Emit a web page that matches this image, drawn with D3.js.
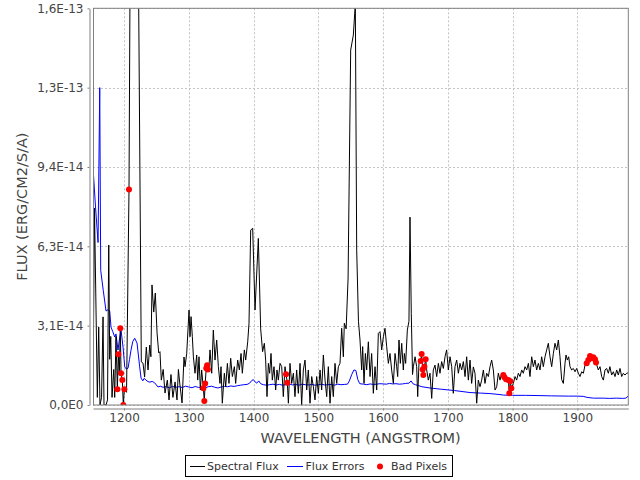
<!DOCTYPE html>
<html><head><meta charset="utf-8">
<script src="https://cdn.jsdelivr.net/npm/d3@7"></script>
<style>
body{margin:0;background:#fff;}
svg text{font-family:"DejaVu Sans",sans-serif;}
</style></head><body>
<svg id="c" width="640" height="480"></svg>
<script>
// ---------------- DATA (flux in units of 1e-14 erg/cm2/s/A) ----------------
const SCALE = 1e-14;
const fluxWave = [1152.1,1154.4,1158.8,1160.9,1162.9,1165.3,1167.6,1169.1,1172.2,1174.5,1176.4,1177.9,1179.5,1181.5,1184.1,1185.6,1187.6,1189.7,1191.2,1192.7,1194.3,1195.4,1197.4,1198.9,1200.5,1203.9,1207.7,1211.0,1215.5,1220.0,1226.7,1229.3,1231.8,1234.4,1237.1,1239.7,1241.5,1243.2,1245.9,1248.3,1251.0,1253.6,1255.5,1257.6,1260.5,1263.3,1266.9,1269.5,1272.5,1275.5,1278.8,1281.8,1284.0,1286.0,1289.6,1292.6,1294.2,1296.8,1300.4,1301.9,1303.5,1305.5,1307.1,1309.6,1312.2,1313.8,1315.8,1317.9,1319.9,1322.5,1324.0,1325.3,1327.0,1328.3,1329.5,1331.2,1332.8,1335.4,1337.9,1340.5,1343.1,1345.7,1348.2,1349.8,1351.8,1354.9,1357.0,1359.6,1362.1,1364.7,1367.3,1370.4,1372.4,1375.5,1378.1,1380.7,1382.7,1385.8,1387.9,1391.0,1393.0,1395.6,1398.7,1402.3,1407.4,1411.0,1414.0,1416.7,1418.7,1420.8,1422.9,1424.9,1427.0,1429.0,1431.6,1434.2,1436.2,1438.3,1440.9,1443.5,1446.0,1448.6,1450.2,1452.2,1453.8,1456.3,1458.9,1461.5,1464.0,1466.6,1469.2,1471.8,1474.3,1476.9,1479.5,1482.1,1484.6,1487.2,1489.8,1492.4,1494.9,1497.5,1500.1,1502.7,1505.2,1507.8,1510.4,1513.0,1515.5,1518.1,1520.7,1523.2,1525.8,1528.4,1531.0,1533.5,1536.1,1538.7,1540.2,1543.0,1546.0,1550.0,1554.1,1557.2,1559.3,1562.0,1564.4,1567.0,1568.5,1570.6,1572.7,1574.7,1577.3,1579.9,1582.4,1585.0,1587.6,1590.2,1592.7,1595.3,1597.9,1600.5,1603.0,1605.6,1608.2,1610.7,1613.3,1615.9,1618.5,1621.0,1622.6,1624.6,1626.7,1628.8,1631.3,1632.9,1634.9,1637.5,1640.0,1641.6,1643.6,1645.5,1646.8,1649.4,1651.9,1653.5,1655.5,1658.1,1659.6,1661.2,1662.2,1663.8,1665.8,1667.4,1669.9,1672.5,1675.1,1677.6,1680.2,1682.8,1685.4,1687.9,1690.5,1693.1,1695.7,1698.2,1700.8,1703.4,1706.0,1708.5,1711.1,1713.7,1716.3,1718.8,1721.4,1724.0,1726.6,1729.1,1731.7,1734.3,1736.8,1739.4,1742.0,1744.6,1747.1,1749.7,1752.3,1754.9,1757.4,1760.0,1762.6,1765.2,1767.7,1770.3,1772.9,1775.5,1778.0,1780.6,1783.2,1785.7,1787.3,1789.9,1793.5,1795.0,1796.5,1798.1,1801.2,1803.8,1806.3,1808.9,1811.5,1814.1,1816.6,1819.2,1821.8,1824.4,1826.9,1829.5,1832.1,1834.6,1837.2,1839.8,1842.4,1844.9,1847.5,1850.1,1852.7,1855.2,1857.8,1860.4,1863.0,1865.5,1868.1,1870.7,1873.2,1875.8,1878.4,1881.0,1882.5,1884.6,1886.6,1888.7,1891.3,1893.8,1896.4,1899.0,1901.6,1904.1,1906.7,1909.3,1911.9,1914.4,1917.0,1919.6,1922.1,1924.7,1927.3,1928.8,1932.4,1935.0,1937.6,1940.2,1942.7,1945.3,1947.9,1950.3,1953.0,1955.6,1958.2,1960.8,1963.3,1965.9,1968.5,1971.0,1973.6,1976.2,1978.7];
const fluxVals = [0.5,7.75,0.3,3.07,0.0,0.3,3.47,0.0,0.0,0.2,6.3,1.8,2.7,0.3,1.4,0.3,2.7,0.62,2.0,1.2,3.02,1.25,0.98,0.0,0.62,0.5,8.49,25.4,45,25,1.7,1.65,1.1,2.28,1.38,2.36,1.9,4.73,3.66,4.41,2.84,2.05,2.1,0.98,1.4,0.47,0.98,0.2,1.2,0.3,0.91,0.2,1.4,0.87,0.08,1.89,1.51,2.03,3.74,2.69,3.48,2.69,1.90,1.25,1.97,0.98,1.90,0.59,1.38,0.66,0.16,0.85,1.45,1.57,1.40,1.51,2.17,1.25,2.95,1.77,2.56,1.51,0.85,1.51,0.07,1.25,0.72,1.64,0.85,1.84,1.12,1.51,0.85,1.77,1.38,2.03,1.25,2.17,1.77,2.49,3.22,6.89,6.96,3.74,6.56,3.0,2.1,2.43,1.77,0.33,1.64,1.25,2.03,0.98,1.51,0.59,1.38,0.98,1.64,1.51,0.33,1.51,1.21,0.88,0.07,1.64,0.85,1.25,0.33,1.38,0.46,1.64,0.0,1.38,1.77,0.59,1.38,0.07,1.12,0.72,0.20,1.12,0.46,1.38,0.59,1.97,0.98,0.33,1.51,0.07,1.12,0.33,1.64,0.85,1.51,1.64,3.02,1.90,3.22,3.0,5.0,13.98,14.57,15.8,6.1,3.3,2.56,1.38,2.30,0.85,2.03,1.38,2.49,1.12,2.03,0.46,1.51,0.59,2.82,2.89,2.17,2.69,3.02,2.30,1.64,2.03,1.38,0.85,2.03,1.51,1.12,2.56,1.64,2.43,1.38,2.03,1.64,2.95,3.3,7.4,3.6,1.2,1.51,1.90,1.51,0.33,1.64,1.73,2.01,1.40,1.18,1.51,1.80,1.38,0.98,1.25,0.26,1.38,1.57,1.12,1.64,1.25,1.71,1.44,1.90,2.17,1.38,1.90,1.51,0.46,1.51,1.77,1.25,1.64,1.38,1.71,1.12,1.90,0.98,1.77,0.85,1.5,1.25,0.07,0.98,0.72,0.98,1.38,0.85,1.25,1.12,1.51,1.77,1.38,0.59,0.72,1.25,0.98,1.25,1.18,1.09,1.01,0.98,0.46,0.94,0.66,0.85,1.12,0.98,1.25,1.12,1.38,1.25,1.51,1.38,1.64,1.12,1.90,1.51,1.77,1.38,1.64,1.38,1.90,1.51,1.90,2.17,2.43,1.90,1.51,2.03,2.43,2.17,2.56,1.90,1.0,0.85,1.64,1.97,1.77,1.90,1.51,1.38,1.44,1.31,1.44,1.25,1.12,1.31,1.25,1.57,1.64,1.77,1.93,1.84,1.88,1.80,1.67,1.38,1.51,1.12,0.98,1.38,1.44,1.25,1.51,1.18,1.31,1.12,1.38,1.18,1.44,1.12,1.25,1.18,1.25,1.27];

const errWave = [1152.1,1156.0,1159.9,1162.5,1164.0,1168.0,1172.2,1175.0,1177.9,1179.9,1182.5,1185.6,1187.6,1190.7,1193.0,1195.4,1198.5,1201.1,1203.5,1206.2,1208.5,1210.8,1213.5,1216.5,1220.1,1224.2,1226.3,1229.0,1231.0,1234.0,1237.0,1240.1,1243.5,1247.4,1252.5,1256,1260,1265,1270,1275,1280,1285,1290,1295,1300,1305,1310,1315,1320,1325,1330,1335,1340,1345,1350,1355,1360,1365,1370,1375,1380,1385,1390,1394,1397,1399.7,1402,1405,1408,1411,1415,1420,1425,1430,1435,1440,1445,1450,1455,1460,1465,1470,1475,1480,1485,1490,1495,1500,1505,1510,1515,1520,1525,1530,1535,1540,1545,1548,1551.6,1555,1558,1561,1564,1570,1575,1580,1585,1590,1595,1600,1605,1610,1615,1620,1625,1630,1635,1640,1643.2,1646,1650,1660,1672.5,1690,1710,1734.3,1750,1765,1780.6,1786,1800,1820,1842.4,1860,1886,1900,1909,1915,1925,1940,1950,1960,1970,1975,1978.7];
const errVals = [9.37,7.8,6.4,12.5,5.3,4.5,3.7,3.75,3.7,3.07,2.9,2.68,2.8,2.16,2.6,2.95,2.28,1.5,1.42,1.45,1.8,2.16,2.5,2.63,2.44,1.5,1.06,0.95,1.05,0.98,0.92,0.9,0.93,0.87,0.71,0.74,0.70,0.72,0.68,0.73,0.70,0.72,0.69,0.74,0.71,0.68,0.73,0.69,0.71,0.67,0.72,0.74,0.70,0.67,0.71,0.73,0.72,0.75,0.73,0.76,0.78,0.80,0.81,0.86,0.96,1.0,0.92,0.86,0.95,0.84,0.80,0.78,0.80,0.82,0.79,0.81,0.78,0.80,0.83,0.79,0.81,0.78,0.82,0.80,0.79,0.81,0.78,0.80,0.82,0.79,0.80,0.81,0.78,0.82,0.80,0.81,0.82,0.95,1.2,1.38,1.36,1.0,0.84,0.82,0.80,0.83,0.81,0.82,0.84,0.83,0.82,0.85,0.83,0.84,0.82,0.83,0.85,0.86,0.95,0.84,0.80,0.72,0.67,0.62,0.57,0.49,0.47,0.45,0.41,0.39,0.38,0.38,0.37,0.36,0.35,0.35,0.34,0.30,0.27,0.27,0.26,0.27,0.26,0.27,0.36];

const badWave = [1189.7,1191.2,1194.3,1195.4,1197.4,1198.9,1200.5,1207.7,1322.5,1324.0,1325.3,1327.0,1328.3,1329.5,1450.2,1452.2,1658.1,1659.6,1661.2,1662.2,1663.8,1665.8,1785.7,1787.3,1789.9,1793.5,1795.0,1796.5,1798.1,1914.4,1917.0,1919.6,1922.1,1924.7,1927.3,1928.8];
const badVals = [0.62,2.0,3.02,1.25,0.98,0.0,0.62,8.49,0.66,0.16,0.85,1.45,1.57,1.40,1.21,0.88,1.73,2.01,1.40,1.18,1.51,1.80,1.18,1.09,1.01,0.98,0.46,0.94,0.66,1.64,1.77,1.93,1.84,1.88,1.80,1.67];

const xRange = [1152.1, 1978.7];
const yRange = [0, 1.5625e-13];
const xTicks = [1200,1300,1400,1500,1600,1700,1800,1900];
const yTicks = [0, 3.125e-14, 6.25e-14, 9.375e-14, 1.25e-13, 1.5625e-13];
const yTickLabels = ["0,0E0","3,1E-14","6,3E-14","9,4E-14","1,3E-13","1,6E-13"];
const xTitle = "WAVELENGTH (ANGSTROM)";
const yTitle = "FLUX (ERG/CM2/S/A)";
const legendItems = ["Spectral Flux","Flux Errors","Bad Pixels"];

// ---------------- CHART ----------------
const svg = d3.select("#c");
const L=93, R=628.3, T=8.3, B=405;
const x = d3.scaleLinear().domain(xRange).range([L,R]);
const y = d3.scaleLinear().domain(yRange).range([B,T]);
const textCol = "#444";

svg.append("rect").attr("x",L).attr("y",T).attr("width",R-L).attr("height",B-T).attr("fill","#fff");

// gridlines
const grid = svg.append("g").attr("stroke","#c4c4c4").attr("stroke-width",1).attr("stroke-dasharray","2,2");
xTicks.forEach(t=>grid.append("line").attr("x1",Math.round(x(t))+0.5).attr("x2",Math.round(x(t))+0.5).attr("y1",T).attr("y2",B));
yTicks.forEach(t=>grid.append("line").attr("y1",Math.round(y(t))+0.5).attr("y2",Math.round(y(t))+0.5).attr("x1",L).attr("x2",R));

// data
svg.append("clipPath").attr("id","clip").append("rect").attr("x",L).attr("y",T).attr("width",R-L).attr("height",B-T);
const gData = svg.append("g").attr("clip-path","url(#clip)");
const line = d3.line().x(d=>x(d[0])).y(d=>y(d[1]*SCALE));
gData.append("path").datum(errWave.map((w,i)=>[w,errVals[i]])).attr("d",line).attr("fill","none").attr("stroke","#0000ff").attr("stroke-width",1);
gData.append("path").datum(fluxWave.map((w,i)=>[w,fluxVals[i]])).attr("d",line).attr("fill","none").attr("stroke","#000").attr("stroke-width",1);
gData.selectAll("circle").data(badWave.map((w,i)=>[w,badVals[i]])).enter().append("circle")
  .attr("cx",d=>x(d[0])).attr("cy",d=>y(d[1]*SCALE)).attr("r",3).attr("fill","#ff0000");

// plot outline
svg.append("rect").attr("x",L+0.5).attr("y",T).attr("width",R-L-0.5).attr("height",B-T).attr("fill","none").attr("stroke","#808080").attr("stroke-width",1);

// axes
const yAxis = d3.axisLeft(y).tickValues(yTicks).tickFormat((d,i)=>yTickLabels[i]).tickSizeInner(2).tickSizeOuter(0).tickPadding(4);
const gy = svg.append("g").attr("transform","translate(89.5,0)").call(yAxis);
const xAxis = d3.axisBottom(x).tickValues(xTicks).tickFormat(d3.format("d")).tickSizeInner(2).tickSizeOuter(0).tickPadding(3);
const gx = svg.append("g").attr("transform","translate(0,408.5)").call(xAxis);
[gx,gy].forEach(g=>{
  g.select(".domain").attr("stroke","#808080");
  g.selectAll(".tick line").attr("stroke","#808080");
  g.selectAll("text").attr("fill",textCol).style("font-size","12px").style("font-family","DejaVu Sans");
});

svg.append("text").attr("x",(L+R)/2).attr("y",443).attr("text-anchor","middle").attr("fill",textCol)
  .style("font-size","14.5px").text(xTitle);
svg.append("text").attr("transform",`translate(27,${(T+B)/2}) rotate(-90)`).attr("text-anchor","middle").attr("fill",textCol)
  .style("font-size","14.5px").text(yTitle);

// legend
const lg = svg.append("g");
lg.append("rect").attr("x",185.5).attr("y",455.5).attr("width",267).attr("height",21).attr("fill","#fff").attr("stroke","#000");
const ly = 466;
lg.append("line").attr("x1",190).attr("x2",205).attr("y1",ly+0.5).attr("y2",ly+0.5).attr("stroke","#000");
lg.append("text").attr("x",207).attr("y",ly+4).text(legendItems[0]);
lg.append("line").attr("x1",287).attr("x2",303).attr("y1",ly+0.5).attr("y2",ly+0.5).attr("stroke","#0000ff");
lg.append("text").attr("x",305.5).attr("y",ly+4).text(legendItems[1]);
lg.append("circle").attr("cx",380).attr("cy",ly+0.5).attr("r",3).attr("fill","#ff0000");
lg.append("text").attr("x",391).attr("y",ly+4).text(legendItems[2]);
lg.selectAll("text").attr("fill","#333").style("font-size","11px");
</script></body></html>
